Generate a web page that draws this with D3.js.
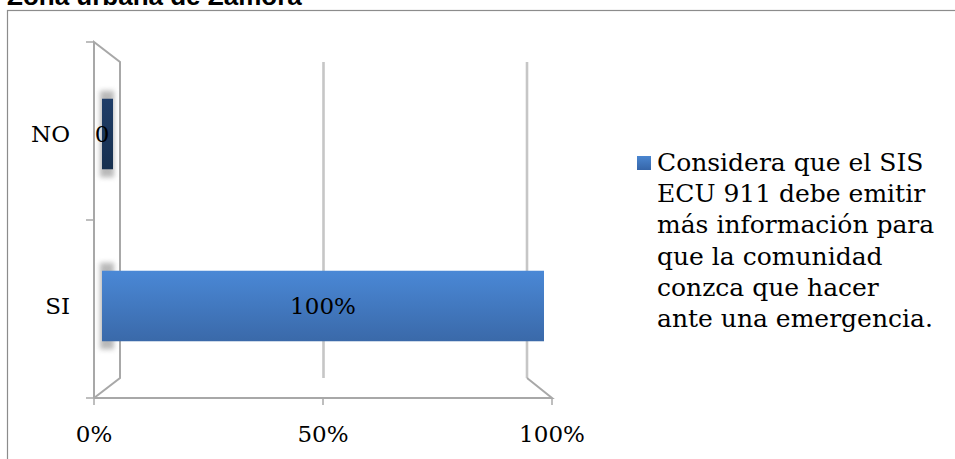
<!DOCTYPE html>
<html>
<head>
<meta charset="utf-8">
<script src="https://cdn.jsdelivr.net/npm/d3@7"></script>
<style>
  html, body { margin: 0; padding: 0; background: #fff; }
  svg { display: block; }
</style>
</head>
<body>
<svg id="chart" width="955" height="459"></svg>
<script>
// Survey answers (share of respondents) and the labels printed on the bars
const categories = ["SI", "NO"];
const values = [1, 0];
const valueLabels = ["100%", "0"];
const tickValues = [0, 0.5, 1];
const tickLabels = ["0%", "50%", "100%"];
const seriesName = ["Considera que el SIS", "ECU 911 debe emitir", "más información para",
                    "que la comunidad", "conzca que hacer", "ante una emergencia."];
const title = "Zona urbana de Zamora";

const svg = d3.select("#chart");
const serif = "'DejaVu Serif', serif";

// Outer frame and title (runs off the top edge)
svg.append("text").attr("x", 7).attr("y", 5)
  .attr("font-family", "'Liberation Sans', Arial, sans-serif")
  .attr("font-weight", "bold").attr("font-size", 26).attr("fill", "#000")
  .text(title);
svg.append("rect").attr("x", 7.5).attr("y", 10.5).attr("width", 960).attr("height", 470)
  .attr("fill", "none").attr("stroke", "#8c8c8c").attr("stroke-width", 1.2);

// Three depth planes of the 3-D plot box (front, bar middle, back)
const xFront = d3.scaleLinear().domain([0, 1]).range([94, 552]);
const xBar = d3.scaleLinear().domain([0, 1]).range([102, 544]);
const xBack = d3.scaleLinear().domain([0, 1]).range([120, 527]);
const yFront = d3.scaleBand().domain(categories).range([398, 42]);
const yBar = d3.scaleBand().domain(categories).range([392, 48]).paddingInner(0.59).paddingOuter(0.295);
const yBackTop = 62, yBackBottom = 378;

const defs = svg.append("defs");
const grad = defs.append("linearGradient").attr("id", "barGrad").attr("x1", 0).attr("y1", 0).attr("x2", 0).attr("y2", 1);
grad.append("stop").attr("offset", "0%").attr("stop-color", "#4a88d6");
grad.append("stop").attr("offset", "100%").attr("stop-color", "#3a69a9");
const gradCap = defs.append("linearGradient").attr("id", "capGrad").attr("x1", 0).attr("y1", 0).attr("x2", 0).attr("y2", 1);
gradCap.append("stop").attr("offset", "0%").attr("stop-color", "#1f3d68");
gradCap.append("stop").attr("offset", "100%").attr("stop-color", "#17304f");
const legGrad = defs.append("linearGradient").attr("id", "legGrad").attr("x1", 0).attr("y1", 0).attr("x2", 0).attr("y2", 1);
legGrad.append("stop").attr("offset", "0%").attr("stop-color", "#4a86d0");
legGrad.append("stop").attr("offset", "100%").attr("stop-color", "#3565a8");
defs.append("filter").attr("id", "soft").attr("x", "-50%").attr("y", "-50%").attr("width", "200%").attr("height", "200%")
  .append("feGaussianBlur").attr("stdDeviation", 2.5);

const wallColor = "#a8a8a8";
const g = svg.append("g");

// Gridlines on the back wall
g.selectAll("line.grid").data(tickValues.slice(1)).join("line")
  .attr("x1", d => xBack(d)).attr("x2", d => xBack(d))
  .attr("y1", yBackTop).attr("y2", yBackBottom)
  .attr("stroke", "#c6c6c6").attr("stroke-width", 2.6);

// Left side wall
const x0f = xFront(0), x0b = xBack(0), x1f = xFront(1), x1b = xBack(1);
const yTopF = yFront.range()[1], yBotF = yFront.range()[0];
g.append("path")
  .attr("d", `M${x0f},${yBotF} L${x0f},${yTopF} L${x0b},${yBackTop} L${x0b},${yBackBottom} L${x0f},${yBotF}`)
  .attr("fill", "none").attr("stroke", wallColor).attr("stroke-width", 2);
// Floor outline
g.append("path")
  .attr("d", `M${x0f},${yBotF} L${x1f},${yBotF} L${x1b},${yBackBottom}`)
  .attr("fill", "none").attr("stroke", wallColor).attr("stroke-width", 2);

// Category ticks on the front edge of the wall
const catTicks = [yBotF, ...categories.map(c => yFront(c))];
g.selectAll("line.ctick").data(catTicks).join("line")
  .attr("x1", x0f - 8).attr("x2", x0f).attr("y1", d => d).attr("y2", d => d)
  .attr("stroke", wallColor).attr("stroke-width", 1.5);
// Value ticks under the floor
g.selectAll("line.vtick").data(tickValues).join("line")
  .attr("x1", d => xFront(d)).attr("x2", d => xFront(d)).attr("y1", yBotF).attr("y2", yBotF + 7)
  .attr("stroke", wallColor).attr("stroke-width", 1.5);

// Bars: soft shadow at the base, front face, and end face when the end lies left of centre
const rows = categories.map((c, i) => ({ cat: c, v: values[i], label: valueLabels[i] }));
const capW = 11;
const vanishX = xBar(0.5);
rows.forEach(r => {
  const y = yBar(r.cat), h = yBar.bandwidth();
  const xa = xBar(0), xb = xBar(r.v);
  const showCap = xb < vanishX;
  g.append("rect").attr("x", xa - 2).attr("y", y - 8).attr("width", capW + 3).attr("height", h + 16)
    .attr("fill", "#8a8a8a").attr("opacity", 0.6).attr("filter", "url(#soft)");
  if (xb - xa > 0) {
    g.append("rect").attr("x", xa).attr("y", y).attr("width", xb - xa).attr("height", h)
      .attr("fill", "url(#barGrad)");
  }
  if (showCap) {
    g.append("rect").attr("x", xb).attr("y", y).attr("width", capW).attr("height", h)
      .attr("fill", "url(#capGrad)");
  }
});

// Value labels, centred on the bar span
g.selectAll("text.val").data(rows).join("text")
  .attr("x", d => (xBar(0) + xBar(d.v)) / 2)
  .attr("y", d => yBar(d.cat) + yBar.bandwidth() / 2)
  .attr("dy", "0.36em").attr("text-anchor", "middle")
  .attr("font-family", serif).attr("font-size", 23).attr("fill", "#000")
  .text(d => d.label);

// Category labels
g.selectAll("text.cat").data(categories).join("text")
  .attr("x", 70).attr("y", d => yBar(d) + yBar.bandwidth() / 2)
  .attr("dy", "0.36em").attr("text-anchor", "end")
  .attr("font-family", serif).attr("font-size", 23).attr("fill", "#000")
  .text(d => d);

// Value axis labels
g.selectAll("text.tick").data(tickValues).join("text")
  .attr("x", d => xFront(d)).attr("y", 442)
  .attr("text-anchor", "middle")
  .attr("font-family", serif).attr("font-size", 23).attr("fill", "#000")
  .text((d, i) => tickLabels[i]);

// Legend
const leg = svg.append("g");
leg.append("rect").attr("x", 637).attr("y", 156).attr("width", 14).attr("height", 14).attr("fill", "url(#legGrad)");
leg.append("text").attr("font-family", serif).attr("font-size", 25).attr("fill", "#000")
  .selectAll("tspan").data(seriesName).join("tspan")
  .attr("x", 657).attr("y", (d, i) => 171 + i * 31.2)
  .text(d => d);
</script>
</body>
</html>
